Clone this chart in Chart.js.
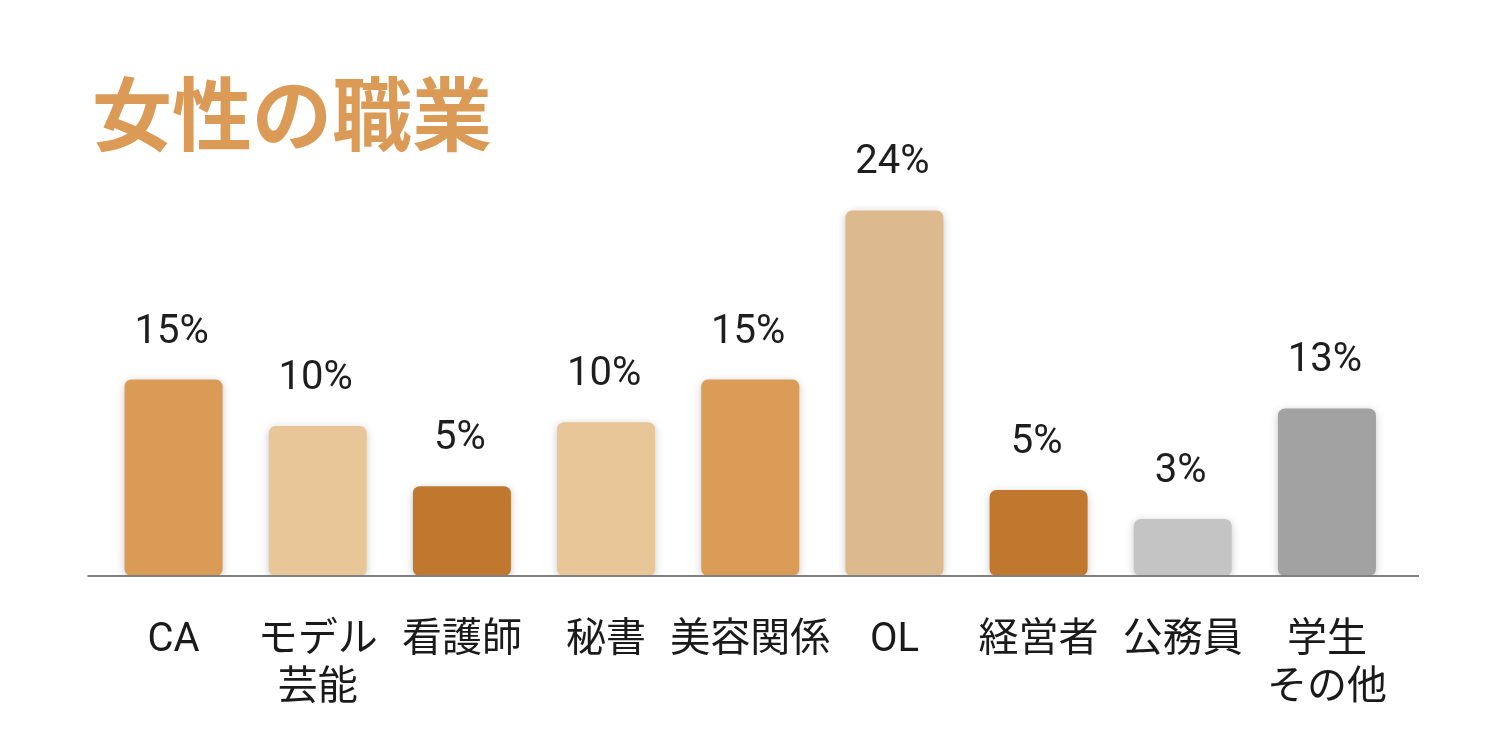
<!DOCTYPE html>
<html>
<head>
<meta charset="utf-8">
<script src="https://cdn.jsdelivr.net/npm/chart.js@4"></script>
<style>
  html, body { margin: 0; padding: 0; background: #fff; }
  #wrap { width: 1500px; height: 743px; }
</style>
</head>
<body>
<div id="wrap"><canvas id="jobChart"></canvas></div>
<script>
// categories (multi-line labels as arrays)
const jobs = ['CA', ['モデル', '芸能'], '看護師', '秘書', '美容関係', 'OL', '経営者', '公務員', ['学生', 'その他']];
// percentages printed above the bars
const shares = [15, 10, 5, 10, 15, 24, 5, 3, 13];
// bar heights as drawn in the picture (same unit as the printed %)
const barHeights = [12.9, 9.85, 5.9, 10.1, 12.9, 24.0, 5.65, 3.75, 11.0];
const barColors = ['#D99B56', '#E8C698', '#C0782E', '#E8C698', '#DA9C57', '#DDB98E', '#C0782E', '#C4C4C4', '#A2A2A2'];

const labelFont = "Roboto, 'Noto Sans CJK JP', sans-serif";

// soft shadow under the bars
const barShadow = {
    id: 'barShadow',
    beforeDatasetDraw(chart) {
        const ctx = chart.ctx;
        ctx.save();
        ctx.shadowColor = 'rgba(0,0,0,0.22)';
        ctx.shadowBlur = 8;
        ctx.shadowOffsetY = 2;
    },
    afterDatasetDraw(chart) {
        chart.ctx.restore();
    }
};

// baseline and the % text over each bar
const valueLabels = {
    id: 'valueLabels',
    afterDatasetsDraw(chart) {
        const ctx = chart.ctx;
        const y0 = chart.scales.y.getPixelForValue(0);
        ctx.save();
        ctx.strokeStyle = '#808080';
        ctx.lineWidth = 2;
        ctx.beginPath();
        ctx.moveTo(chart.chartArea.left - 14, y0);
        ctx.lineTo(chart.chartArea.right + 20, y0);
        ctx.stroke();

        ctx.fillStyle = '#1e1e1e';
        ctx.font = "40px " + labelFont;
        ctx.textAlign = 'center';
        ctx.textBaseline = 'alphabetic';
        chart.getDatasetMeta(0).data.forEach((bar, i) => {
            ctx.fillText(shares[i] + '%', bar.x - 2, bar.y - 37);
        });
        ctx.restore();
    }
};

new Chart(document.getElementById('jobChart'), {
    type: 'bar',
    data: {
        labels: jobs,
        datasets: [{
            data: barHeights,
            backgroundColor: barColors,
            borderRadius: 7,
            borderSkipped: false,
            barPercentage: 0.68,
            categoryPercentage: 1
        }]
    },
    options: {
        responsive: true,
        maintainAspectRatio: false,
        animation: false,
        events: [],
        layout: { padding: { left: 92, right: 101, top: 0, bottom: 0 } },
        plugins: {
            legend: { display: false },
            tooltip: { enabled: false },
            title: {
                display: true,
                text: '女性の職業',
                align: 'start',
                color: '#DB9A55',
                font: { family: "'Noto Sans CJK JP', sans-serif", size: 80, weight: 'bold', lineHeight: 1.2 },
                padding: { top: 66, bottom: 18 }
            }
        },
        scales: {
            x: {
                grid: { display: false },
                border: { display: false },
                ticks: {
                    color: '#1a1a1a',
                    padding: 33,
                    maxRotation: 0,
                    autoSkip: false,
                    font: { family: labelFont, size: 40, lineHeight: 1.2 }
                },
                afterFit(scale) { scale.height = 167; }
            },
            y: {
                min: 0,
                max: 26,
                grid: { display: false },
                border: { display: false },
                ticks: { display: false },
                afterFit(scale) { scale.width = 9.5; }
            }
        }
    },
    plugins: [barShadow, valueLabels]
});
</script>
</body>
</html>
